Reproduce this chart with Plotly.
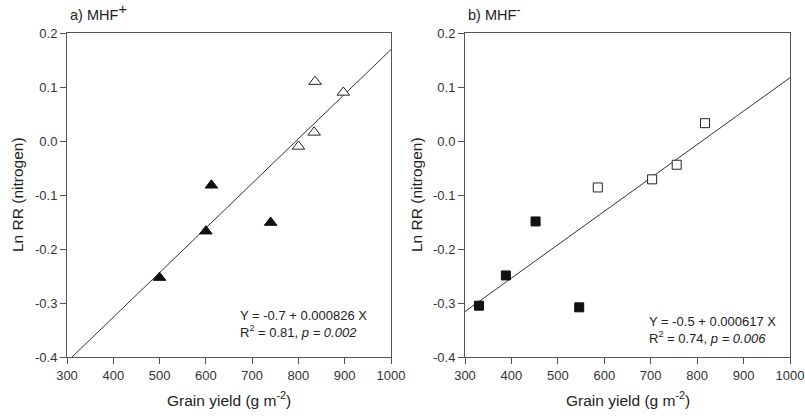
import numpy as np
import plotly.graph_objects as go

# ---- data ----
a_fill_x = [500, 600, 612, 740]
a_fill_y = [-0.253, -0.167, -0.082, -0.151]
a_open_x = [800, 834, 836, 897]
a_open_y = [-0.010, 0.016, 0.110, 0.090]

b_fill_x = [330, 388, 452, 546]
b_fill_y = [-0.305, -0.249, -0.149, -0.308]
b_open_x = [586, 703, 756, 817]
b_open_y = [-0.086, -0.071, -0.044, 0.033]

x_ticks = [300, 400, 500, 600, 700, 800, 900, 1000]
y_ticks = [0.2, 0.1, 0.0, -0.1, -0.2, -0.3, -0.4]
y_ticktext = ["0.2", "0.1", "0.0", "-0.1", "-0.2", "-0.3", "-0.4"]
x_range = [300, 1000]
y_range = [-0.4, 0.2]

panel_titles = ["a) MHF<sup><span style='font-size:15px'>+</span></sup>",
                "b) MHF<sup><span style='font-size:13px'>-</span></sup>"]
eq_texts = ["Y = -0.7 + 0.000826 X<br>R<sup>2</sup> = 0.81, <i>p = 0.002</i>",
            "Y = -0.5 + 0.000617 X<br>R<sup>2</sup> = 0.74, <i>p = 0.006</i>"]
x_title = "Grain yield (g m<sup>-2</sup>)"
y_title = "Ln RR (nitrogen)"

FONT = "Liberation Sans, Arial, sans-serif"
W, H = 805, 418

fig = go.Figure()


def add_panel(fx, fy, ox, oy, symbol, msize, xa, ya):
    allx = np.array(fx + ox, dtype=float)
    ally = np.array(fy + oy, dtype=float)
    slope, intercept = np.polyfit(allx, ally, 1)
    lx = np.array(x_range, dtype=float)
    ly = intercept + slope * lx
    fig.add_trace(go.Scatter(x=lx, y=ly, mode="lines",
                             line=dict(color="#333333", width=1),
                             xaxis=xa, yaxis=ya, showlegend=False, hoverinfo="skip"))
    fig.add_trace(go.Scatter(x=fx, y=fy, mode="markers",
                             marker=dict(symbol=symbol, size=msize, color="#111111",
                                         line=dict(color="#111111", width=1)),
                             xaxis=xa, yaxis=ya, showlegend=False))
    fig.add_trace(go.Scatter(x=ox, y=oy, mode="markers",
                             marker=dict(symbol=symbol, size=msize, color="white",
                                         line=dict(color="#222222", width=1)),
                             xaxis=xa, yaxis=ya, showlegend=False))


add_panel(a_fill_x, a_fill_y, a_open_x, a_open_y, "triangle-up", 11, "x", "y")
add_panel(b_fill_x, b_fill_y, b_open_x, b_open_y, "square", 9, "x2", "y2")

ydom = [1 - 357 / H, 1 - 33 / H]
xdom1 = [67 / W, 391 / W]
xdom2 = [465 / W, 790 / W]

axis_common = dict(showline=True, linecolor="#555555", linewidth=1, mirror=True,
                   ticks="outside", ticklen=6, tickcolor="#555555", tickwidth=1,
                   showgrid=False, zeroline=False, automargin=False,
                   tickfont=dict(family=FONT, size=13, color="#333333"))

fig.update_layout(
    width=W, height=H, margin=dict(l=0, r=0, t=0, b=0),
    paper_bgcolor="white", plot_bgcolor="white",
    xaxis=dict(domain=xdom1, range=x_range, tickvals=x_ticks, anchor="y", **axis_common),
    yaxis=dict(domain=ydom, range=y_range, tickvals=y_ticks, ticktext=y_ticktext, anchor="x", **axis_common),
    xaxis2=dict(domain=xdom2, range=x_range, tickvals=x_ticks, anchor="y2", **axis_common),
    yaxis2=dict(domain=ydom, range=y_range, tickvals=y_ticks, ticktext=y_ticktext, anchor="x2", **axis_common),
)

TF = dict(family=FONT, size=15.5, color="#222222")
for i, (title, eq) in enumerate(zip(panel_titles, eq_texts)):
    dom = xdom1 if i == 0 else xdom2
    # panel title
    fig.add_annotation(text=title, xref="paper", yref="paper",
                       x=dom[0] + 1 / W, y=1 - 25 / H, xanchor="left", yanchor="bottom",
                       showarrow=False, font=dict(family=FONT, size=14.5, color="#222222"))
    # regression equation
    fig.add_annotation(text=eq, xref="paper", yref="paper",
                       x=dom[1] - (22 if i == 0 else 12) / W,
                       y=1 - (342 if i == 0 else 348) / H,
                       xanchor="right", yanchor="bottom", align="left",
                       showarrow=False, font=dict(family=FONT, size=13, color="#222222"))
    # x axis title
    fig.add_annotation(text=x_title, xref="paper", yref="paper",
                       x=(dom[0] + dom[1]) / 2, y=1 - 399 / H, xanchor="center", yanchor="middle",
                       showarrow=False, font=TF)
    # y axis title
    fig.add_annotation(text=y_title, xref="paper", yref="paper", textangle=-90,
                       x=(18 if i == 0 else 417) / W, y=(ydom[0] + ydom[1]) / 2,
                       xanchor="center", yanchor="middle",
                       showarrow=False, font=TF)

# remove the browser's default 8px body margin so the figure sits at the page origin
fig.write_html("out.html", config={"displayModeBar": False},
               post_script="document.body.style.margin='0';document.body.style.overflow='hidden';")
